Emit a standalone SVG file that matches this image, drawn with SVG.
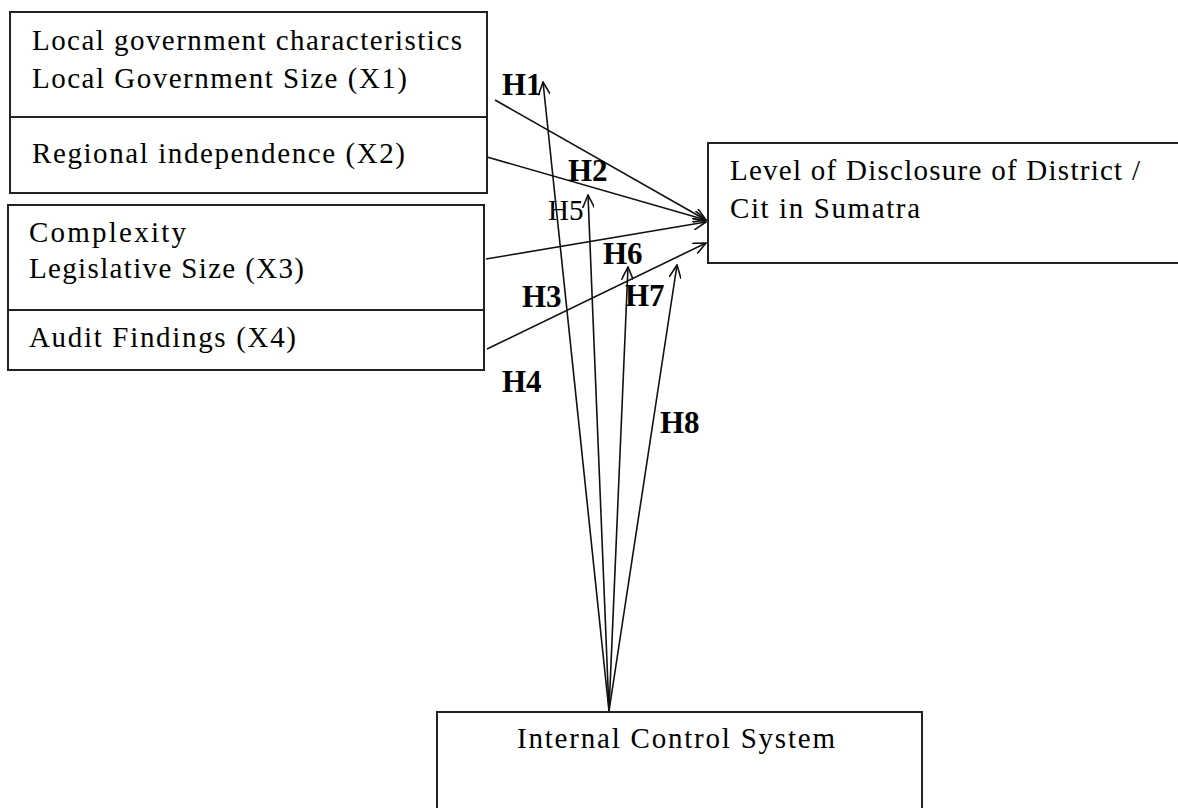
<svg xmlns="http://www.w3.org/2000/svg" width="1178" height="808" viewBox="0 0 1178 808">
<defs>
<style>
.box{fill:#fff;stroke:#222;stroke-width:2}
.div{stroke:#222;stroke-width:2}
.t{font-family:"Liberation Serif","Times New Roman",serif;font-size:29px;fill:#000}
.lb{font-family:"Liberation Serif","Times New Roman",serif;font-size:31px;font-weight:bold;fill:#000}
.lr{font-family:"Liberation Serif","Times New Roman",serif;font-size:29px;fill:#000}
.c{stroke:#111;stroke-width:1.6;fill:none;marker-end:url(#ah)}
</style>
<marker id="ah" viewBox="0 0 14 12" refX="13" refY="6" markerWidth="14" markerHeight="12" markerUnits="userSpaceOnUse" orient="auto">
<polyline points="0,0 13,6 0,12" fill="none" stroke="#111" stroke-width="1.6"/>
</marker>
</defs>
<rect width="1178" height="808" fill="#fff"/>
<g id="node-x1x2">
<rect class="box" x="10" y="12" width="477" height="181"/>
<line class="div" x1="10" y1="117" x2="487" y2="117"/>
<text class="t" x="32" y="50" textLength="430">Local government characteristics</text>
<text class="t" x="32" y="88" textLength="375">Local Government Size (X1)</text>
<text class="t" x="32" y="163" textLength="373">Regional independence (X2)</text>
</g>
<g id="node-x3x4">
<rect class="box" x="8" y="205" width="476" height="165"/>
<line class="div" x1="8" y1="310" x2="484" y2="310" stroke-width="3"/>
<text class="t" x="29" y="242" textLength="157">Complexity</text>
<text class="t" x="29" y="278" textLength="275">Legislative Size (X3)</text>
<text class="t" x="29" y="347" textLength="267">Audit Findings (X4)</text>
</g>
<g id="node-y">
<rect class="box" x="708" y="143" width="480" height="120"/>
<text class="t" x="730" y="180" textLength="410">Level of Disclosure of District /</text>
<text class="t" x="730" y="218" textLength="190">Cit in Sumatra</text>
</g>
<g id="node-ics">
<rect class="box" x="437" y="712" width="485" height="110"/>
<text class="t" x="517" y="748" textLength="318">Internal Control System</text>
</g>
<g id="connectors">
<line class="c" x1="495" y1="100" x2="706" y2="220"/>
<line class="c" x1="487" y1="157" x2="706" y2="220"/>
<line class="c" x1="486" y1="259" x2="706" y2="222"/>
<line class="c" x1="487" y1="349" x2="706" y2="243"/>
<line class="c" x1="609" y1="711" x2="543" y2="82"/>
<line class="c" x1="609" y1="711" x2="588" y2="195"/>
<line class="c" x1="609" y1="711" x2="628" y2="267"/>
<line class="c" x1="609" y1="711" x2="677" y2="265"/>
</g>
<g id="labels">
<text class="lb" x="502" y="95">H1</text>
<text class="lb" x="568" y="181">H2</text>
<text class="lr" x="548" y="220">H5</text>
<text class="lb" x="603" y="264">H6</text>
<text class="lb" x="522" y="307">H3</text>
<text class="lb" x="625" y="306">H7</text>
<text class="lb" x="502" y="392">H4</text>
<text class="lb" x="660" y="433">H8</text>
</g>
</svg>
